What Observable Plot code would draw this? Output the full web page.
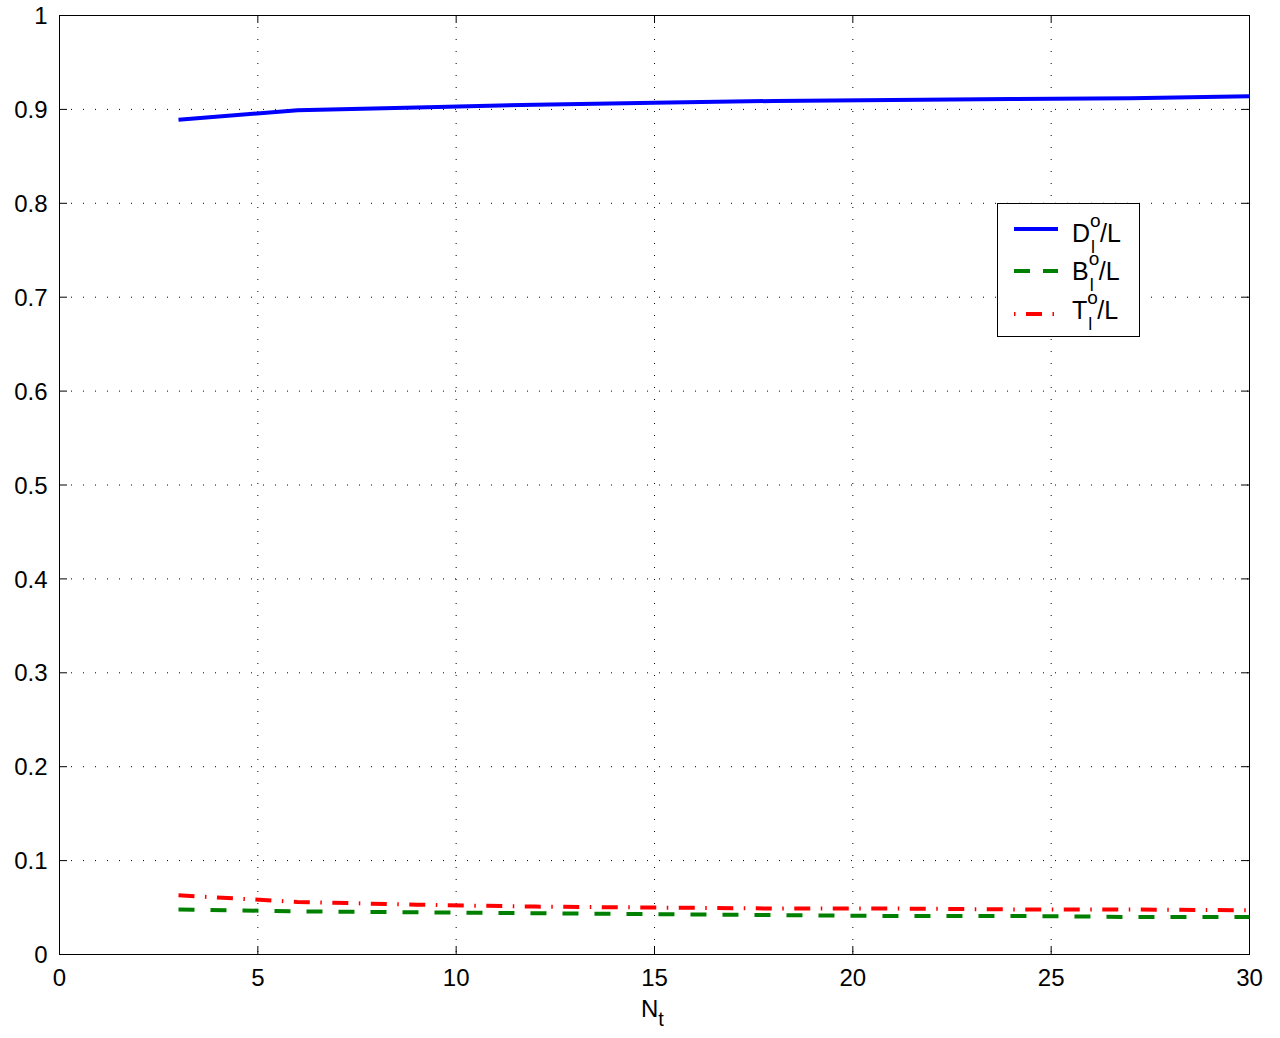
<!DOCTYPE html>
<html><head><meta charset="utf-8">
<script src="https://cdn.jsdelivr.net/npm/d3@7"></script>
<script src="https://cdn.jsdelivr.net/npm/@observablehq/plot@0.6"></script>
<style>
body{margin:0;background:#fff;font-family:"Liberation Sans",Arial,sans-serif;}
#wrap{position:relative;width:1280px;height:1038px;overflow:hidden;}
#wrap svg{display:block;}
.legend{position:absolute;left:997px;top:203px;width:141px;height:132px;border:1.5px solid #000;background:#fff;}
.lab{position:absolute;left:74px;font-size:25px;line-height:1;white-space:nowrap;color:#000;}
.ss{display:inline-block;position:relative;width:10px;height:1px;}
.ss .sup{position:absolute;left:0px;top:-30px;font-size:19px;line-height:1;}
.ss .sub{position:absolute;left:1px;top:-3px;font-size:18px;line-height:1;}
.xlab{position:absolute;left:641px;top:995px;font-size:24px;line-height:1.2;color:#000;}
.xlab .t{font-size:20px;position:relative;top:9px;}
</style></head><body><div id="wrap"></div>
<script>
// Data
const nt = [3, 6, 9, 12, 15, 18, 21, 24, 27, 30];
const dRatio = [0.889, 0.899, 0.902, 0.905, 0.907, 0.909, 0.910, 0.911, 0.912, 0.914];
const bRatio = [0.048, 0.046, 0.045, 0.044, 0.043, 0.042, 0.041, 0.041, 0.040, 0.040];
const tRatio = [0.063, 0.056, 0.053, 0.051, 0.050, 0.049, 0.049, 0.048, 0.048, 0.047];
const xTicks = [0, 5, 10, 15, 20, 25, 30];
const yTicks = [0, 0.1, 0.2, 0.3, 0.4, 0.5, 0.6, 0.7, 0.8, 0.9, 1];
const seriesLetters = ["D", "B", "T"];
const seriesColors = ["#0000ff", "#008000", "#ff0000"];
const seriesDash = [null, "16,16", "16,10.5,1.5,10.5"];

const W = 1280, H = 1038, mL = 59, mR = 31, mT = 15, mB = 84;
const plotH = H - mT - mB, plotW = W - mL - mR;
const allSeries = [dRatio, bRatio, tRatio];
const tables = allSeries.map(vals => nt.map((x, i) => ({x, y: vals[i]})));

const chart = Plot.plot({
  width: W, height: H,
  marginLeft: mL, marginRight: mR, marginTop: mT, marginBottom: mB,
  x: {domain: [0, 30], label: null},
  y: {domain: [0, 1], label: null},
  style: {fontFamily: "Liberation Sans, Arial, sans-serif", fontSize: "24px", color: "#000", background: "#fff", overflow: "visible"},
  marks: [
    Plot.gridX(xTicks.slice(1, -1), {stroke: "#000", strokeOpacity: 1, strokeWidth: 1, strokeDasharray: "1,11"}),
    Plot.gridY(yTicks.slice(1, -1), {stroke: "#000", strokeOpacity: 1, strokeWidth: 1, strokeDasharray: "1,11"}),
    Plot.tickX(xTicks, {x: d => d, stroke: "#000", insetTop: plotH - 8}),
    Plot.tickX(xTicks, {x: d => d, stroke: "#000", insetBottom: plotH - 8}),
    Plot.tickY(yTicks, {y: d => d, stroke: "#000", insetRight: plotW - 8}),
    Plot.tickY(yTicks, {y: d => d, stroke: "#000", insetLeft: plotW - 8}),
    Plot.axisX(xTicks, {tickSize: 0, tickPadding: 14, tickFormat: d => String(d), fill: "#000"}),
    Plot.axisY(yTicks, {tickSize: 0, tickPadding: 12, dy: 1, tickFormat: d => String(+d.toFixed(1)), fill: "#000"}),
    Plot.frame({stroke: "#000", strokeWidth: 1}),
    ...tables.map((t, i) => Plot.line(t, {x: "x", y: "y", stroke: seriesColors[i], strokeWidth: 4, strokeDasharray: seriesDash[i], strokeLinecap: "butt"}))
  ]
});

const wrap = document.getElementById("wrap");
wrap.appendChild(chart);

// Legend
const legend = document.createElement("div");
legend.className = "legend";
const lineY = [25, 67, 110];
const textBase = [37, 75, 114];
seriesLetters.forEach((s, i) => {
  const sw = document.createElementNS("http://www.w3.org/2000/svg", "svg");
  sw.setAttribute("width", 141); sw.setAttribute("height", 10);
  sw.style.position = "absolute"; sw.style.left = "0px"; sw.style.top = (lineY[i] - 5) + "px";
  const ln = document.createElementNS("http://www.w3.org/2000/svg", "line");
  ln.setAttribute("x1", 16); ln.setAttribute("x2", 60); ln.setAttribute("y1", 5); ln.setAttribute("y2", 5);
  ln.setAttribute("stroke", seriesColors[i]); ln.setAttribute("stroke-width", 4);
  if (seriesDash[i]) ln.setAttribute("stroke-dasharray", i === 2 ? "1.5,10.5,16,10.5" : "16,13");
  sw.appendChild(ln);
  legend.appendChild(sw);
  const lab = document.createElement("div");
  lab.className = "lab";
  lab.style.top = (textBase[i] - 20) + "px";
  lab.innerHTML = `${s}<span class="ss"><span class="sup">o</span><span class="sub">l</span></span>/L`;
  legend.appendChild(lab);
});
wrap.appendChild(legend);

const xl = document.createElement("div");
xl.className = "xlab";
xl.innerHTML = 'N<span class="t">t</span>';
wrap.appendChild(xl);
</script>
</body></html>
